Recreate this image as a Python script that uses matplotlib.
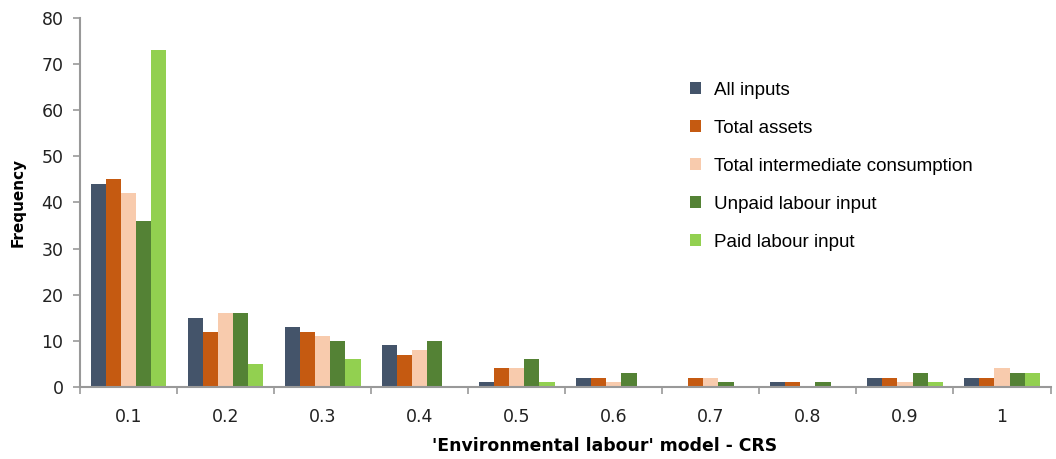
import numpy as np
import matplotlib.pyplot as plt

categories = ['0.1', '0.2', '0.3', '0.4', '0.5', '0.6', '0.7', '0.8', '0.9', '1']
all_inputs = [44, 15, 13, 9, 1, 2, 0, 1, 2, 2]
total_assets = [45, 12, 12, 7, 4, 2, 2, 1, 2, 2]
total_intermediate = [42, 16, 11, 8, 4, 1, 2, 0, 1, 4]
unpaid_labour = [36, 16, 10, 10, 6, 3, 1, 1, 3, 3]
paid_labour = [73, 5, 6, 0, 1, 0, 0, 0, 1, 3]

series = [
    ('All inputs', all_inputs, '#44546A'),
    ('Total assets', total_assets, '#C55A11'),
    ('Total intermediate consumption', total_intermediate, '#F8CBAD'),
    ('Unpaid labour input', unpaid_labour, '#548235'),
    ('Paid labour input', paid_labour, '#92D050'),
]

fig = plt.figure(figsize=(10.56, 4.59), dpi=100)
ax = fig.add_axes([0.0758, 0.157, 0.919, 0.804])

x = np.arange(len(categories))
width = 0.156
for i, (name, vals, col) in enumerate(series):
    ax.bar(x + (i - 2) * width, vals, width, color=col, label=name)

ax.set_xlim(-0.5, len(categories) - 0.5)
ax.set_ylim(0, 80)
ax.set_yticks(range(0, 81, 10))

# ticks at group boundaries, labels at the centres
ax.set_xticks(np.arange(-0.5, len(categories), 1.0))
ax.set_xticklabels([])
ax.set_xticks(x, minor=True)
ax.set_xticklabels(categories, minor=True)
ax.tick_params(axis='x', which='minor', length=0, pad=15, labelsize=12.5, labelcolor='#222222')
ax.tick_params(axis='x', which='major', length=5, width=1.2, color='#999999')
ax.tick_params(axis='y', length=5, width=1.2, color='#999999', labelsize=12.5, labelcolor='#222222', pad=7)

for s in ['top', 'right']:
    ax.spines[s].set_visible(False)
for s in ['left', 'bottom']:
    ax.spines[s].set_color('#999999')
    ax.spines[s].set_linewidth(1.5)

ax.set_ylabel('Frequency', fontsize=11, fontweight='bold', labelpad=11)
ax.set_xlabel("'Environmental labour' model - CRS", fontsize=12.4, fontweight='bold', labelpad=8, x=0.54)

fig.legend(loc='upper left', bbox_to_anchor=(0.637, 0.858), frameon=False,
           prop={'family': 'Liberation Sans', 'size': 13.5},
           handlelength=0.6, handleheight=0.6, handletextpad=0.7, labelspacing=1.12)

plt.savefig('out.png', dpi=100)
